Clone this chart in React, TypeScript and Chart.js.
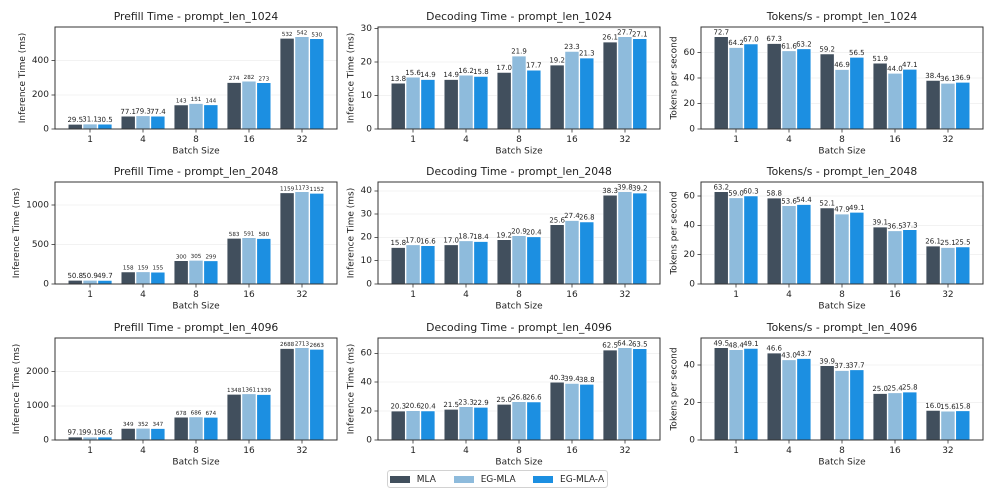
import React, { useEffect, useRef } from "react";
import { Chart, registerables } from "chart.js";

Chart.register(...registerables);

// ---------------- data ----------------
const batchSizes = ["1", "4", "8", "16", "32"];
const seriesNames = ["MLA", "EG-MLA", "EG-MLA-A"];
const seriesColors = ["#414f5d", "#8ebbdc", "#1c8fe1"];

const prefill1024MLA = [29.5, 77.1, 143, 274, 532];
const prefill1024EG = [31.1, 79.3, 151, 282, 542];
const prefill1024EGA = [30.5, 77.4, 144, 273, 530];

const decode1024MLA = [13.8, 14.9, 17.0, 19.2, 26.1];
const decode1024EG = [15.6, 16.2, 21.9, 23.3, 27.7];
const decode1024EGA = [14.9, 15.8, 17.7, 21.3, 27.1];

const tokens1024MLA = [72.7, 67.3, 59.2, 51.9, 38.4];
const tokens1024EG = [64.2, 61.6, 46.9, 44.0, 36.1];
const tokens1024EGA = [67.0, 63.2, 56.5, 47.1, 36.9];

const prefill2048MLA = [50.8, 158, 300, 583, 1159];
const prefill2048EG = [50.9, 159, 305, 591, 1173];
const prefill2048EGA = [49.7, 155, 299, 580, 1152];

const decode2048MLA = [15.8, 17.0, 19.2, 25.6, 38.3];
const decode2048EG = [17.0, 18.7, 20.9, 27.4, 39.8];
const decode2048EGA = [16.6, 18.4, 20.4, 26.8, 39.2];

const tokens2048MLA = [63.2, 58.8, 52.1, 39.1, 26.1];
const tokens2048EG = [59.0, 53.6, 47.9, 36.5, 25.1];
const tokens2048EGA = [60.3, 54.4, 49.1, 37.3, 25.5];

const prefill4096MLA = [97.1, 349, 678, 1348, 2688];
const prefill4096EG = [99.1, 352, 686, 1361, 2713];
const prefill4096EGA = [96.6, 347, 674, 1339, 2663];

const decode4096MLA = [20.3, 21.5, 25.0, 40.3, 62.5];
const decode4096EG = [20.6, 23.3, 26.8, 39.4, 64.2];
const decode4096EGA = [20.4, 22.9, 26.6, 38.8, 63.5];

const tokens4096MLA = [49.5, 46.6, 39.9, 25.0, 16.0];
const tokens4096EG = [48.4, 43.0, 37.3, 25.4, 15.6];
const tokens4096EGA = [49.1, 43.7, 37.7, 25.8, 15.8];

const yStepsRow1 = [200, 10, 20];
const yStepsRow2 = [500, 10, 20];
const yStepsRow3 = [1000, 20, 20];

const timeLabel = "Inference Time (ms)";
const tokensLabel = "Tokens per second";
const xLabel = "Batch Size";

type PanelDef = {
  title: string;
  yLabel: string;
  series: number[][];
  step: number;
};

const panels: PanelDef[][] = [
  [
    { title: "Prefill Time - prompt_len_1024", yLabel: timeLabel, series: [prefill1024MLA, prefill1024EG, prefill1024EGA], step: yStepsRow1[0] },
    { title: "Decoding Time - prompt_len_1024", yLabel: timeLabel, series: [decode1024MLA, decode1024EG, decode1024EGA], step: yStepsRow1[1] },
    { title: "Tokens/s - prompt_len_1024", yLabel: tokensLabel, series: [tokens1024MLA, tokens1024EG, tokens1024EGA], step: yStepsRow1[2] },
  ],
  [
    { title: "Prefill Time - prompt_len_2048", yLabel: timeLabel, series: [prefill2048MLA, prefill2048EG, prefill2048EGA], step: yStepsRow2[0] },
    { title: "Decoding Time - prompt_len_2048", yLabel: timeLabel, series: [decode2048MLA, decode2048EG, decode2048EGA], step: yStepsRow2[1] },
    { title: "Tokens/s - prompt_len_2048", yLabel: tokensLabel, series: [tokens2048MLA, tokens2048EG, tokens2048EGA], step: yStepsRow2[2] },
  ],
  [
    { title: "Prefill Time - prompt_len_4096", yLabel: timeLabel, series: [prefill4096MLA, prefill4096EG, prefill4096EGA], step: yStepsRow3[0] },
    { title: "Decoding Time - prompt_len_4096", yLabel: timeLabel, series: [decode4096MLA, decode4096EG, decode4096EGA], step: yStepsRow3[1] },
    { title: "Tokens/s - prompt_len_4096", yLabel: tokensLabel, series: [tokens4096MLA, tokens4096EG, tokens4096EGA], step: yStepsRow3[2] },
  ],
];

// ---------------- layout ----------------
const FONT = '"DejaVu Sans", "Liberation Sans", sans-serif';
const TEXT = "#1f1f1f";
const PLOT_LEFTS = [55, 378, 701];
const PLOT_TOPS = [27, 182, 338];
const PLOT_W = 282;
const PLOT_H = 102;
const AXIS_W = 52;
const AXIS_H = 30;
const PAD_T = 24;
const PAD_R = 4;
const X_MIN = -0.662;
const X_MAX = 4.662;

function fmt(v: number) {
  return v >= 100 ? String(Math.round(v)) : v.toFixed(1);
}

function makeDecor(panel: PanelDef) {
  return {
    id: "decor",
    afterDatasetsDraw(chart: any) {
      const ctx = chart.ctx as CanvasRenderingContext2D;
      ctx.save();
      ctx.textAlign = "center";
      ctx.textBaseline = "alphabetic";
      ctx.fillStyle = TEXT;
      chart.data.datasets.forEach((_ds: any, di: number) => {
        const meta = chart.getDatasetMeta(di);
        meta.data.forEach((el: any, i: number) => {
          const v = panel.series[di][i];
          const size = v >= 100 ? 5.6 : 7;
          ctx.font = `${size}px ${FONT}`;
          ctx.fillText(fmt(v), el.x, el.y - 2);
        });
      });
      ctx.restore();
    },
    afterDraw(chart: any) {
      const ctx = chart.ctx as CanvasRenderingContext2D;
      const a = chart.chartArea;
      ctx.save();
      // frame
      ctx.strokeStyle = "#333333";
      ctx.lineWidth = 1;
      ctx.strokeRect(a.left, a.top, a.right - a.left, a.bottom - a.top);
      // title
      ctx.fillStyle = TEXT;
      ctx.textAlign = "center";
      ctx.textBaseline = "middle";
      ctx.font = `10.8px ${FONT}`;
      ctx.fillText(panel.title, (a.left + a.right) / 2, a.top - 9.7);
      // x label
      ctx.font = `9px ${FONT}`;
      ctx.fillText(xLabel, (a.left + a.right) / 2, a.bottom + 22.4);
      // y label
      const yScale = chart.scales.y;
      let maxW = 0;
      yScale.ticks.forEach((t: any) => {
        const w = ctx.measureText(String(t.label)).width;
        if (w > maxW) maxW = w;
      });
      const lx = a.left - 6 - maxW - 9.3;
      ctx.translate(lx, (a.top + a.bottom) / 2);
      ctx.rotate(-Math.PI / 2);
      ctx.fillText(panel.yLabel, 0, 0);
      ctx.restore();
    },
  };
}

function Panel({ panel, left, top }: { panel: PanelDef; left: number; top: number }) {
  const ref = useRef<HTMLCanvasElement>(null);
  useEffect(() => {
    const maxV = Math.max(...panel.series.flat());
    const yMax = maxV * 1.1;
    const tickFont = { family: FONT, size: 9 };
    const chart = new Chart(ref.current as HTMLCanvasElement, {
      type: "bar",
      data: {
        datasets: panel.series.map((vals, si) => ({
          label: seriesNames[si],
          data: vals.map((v, i) => ({ x: i, y: v })),
          backgroundColor: seriesColors[si],
          borderColor: "#ffffff",
          borderWidth: 0.7,
          borderSkipped: "bottom",
          categoryPercentage: 0.84,
          barPercentage: 1,
        })),
      } as any,
      options: {
        animation: false,
        responsive: true,
        maintainAspectRatio: false,
        devicePixelRatio: 2,
        layout: { padding: { left: 0, top: PAD_T, right: PAD_R, bottom: 0 } },
        plugins: {
          legend: { display: false },
          tooltip: { enabled: false },
          title: { display: false },
        },
        scales: {
          x: {
            type: "linear",
            offset: false,
            min: X_MIN,
            max: X_MAX,
            afterBuildTicks: (s: any) => {
              s.ticks = batchSizes.map((_, i) => ({ value: i }));
            },
            afterFit: (s: any) => {
              s.height = AXIS_H;
            },
            ticks: {
              callback: (v: any) => batchSizes[v] ?? "",
              font: tickFont,
              color: TEXT,
              padding: 2,
              maxRotation: 0,
              autoSkip: false,
            },
            grid: {
              offset: false,
              drawOnChartArea: false,
              drawTicks: true,
              tickLength: 3.5,
              tickColor: "#333333",
              tickWidth: 0.8,
            },
            border: { display: false },
          },
          y: {
            type: "linear",
            min: 0,
            max: yMax,
            afterBuildTicks: (s: any) => {
              const t: { value: number }[] = [];
              for (let v = 0; v <= yMax + 1e-9; v += panel.step) t.push({ value: v });
              s.ticks = t;
            },
            afterFit: (s: any) => {
              s.width = AXIS_W;
            },
            ticks: {
              callback: (v: any) => String(v),
              font: tickFont,
              color: TEXT,
              padding: 2.5,
            },
            grid: {
              color: "rgba(0,0,0,0.07)",
              lineWidth: 0.8,
              drawTicks: true,
              tickLength: 3.5,
              tickColor: "#333333",
              tickWidth: 0.8,
            },
            border: { display: false },
          },
        },
      } as any,
      plugins: [makeDecor(panel)],
    });
    return () => chart.destroy();
  }, [panel]);

  const w = AXIS_W + PLOT_W + PAD_R;
  const h = PAD_T + PLOT_H + AXIS_H;
  return (
    <div
      style={{
        position: "absolute",
        left: left - AXIS_W,
        top: top - PAD_T,
        width: w,
        height: h,
      }}
    >
      <canvas ref={ref} />
    </div>
  );
}

function Legend() {
  const items = [
    { patch: 2, text: 28.7 },
    { patch: 66, text: 92.7 },
    { patch: 145.3, text: 172 },
  ];
  return (
    <div
      style={{
        position: "absolute",
        left: 387,
        top: 470,
        width: 221,
        height: 18,
        boxSizing: "border-box",
        border: "1px solid #d2d2d2",
        borderRadius: 3,
        background: "#ffffff",
        fontFamily: FONT,
        fontSize: 9,
        color: TEXT,
      }}
    >
      {seriesNames.map((name, i) => (
        <React.Fragment key={name}>
          <div
            style={{
              position: "absolute",
              left: items[i].patch,
              top: 4.5,
              width: 20,
              height: 7,
              background: seriesColors[i],
            }}
          />
          <span
            style={{
              position: "absolute",
              left: items[i].text,
              top: 0,
              height: 16,
              lineHeight: "16px",
              whiteSpace: "nowrap",
            }}
          >
            {name}
          </span>
        </React.Fragment>
      ))}
    </div>
  );
}

export default function App() {
  return (
    <div
      style={{
        position: "absolute",
        left: 0,
        top: 0,
        width: 996,
        height: 501,
        background: "#ffffff",
        overflow: "hidden",
        fontFamily: FONT,
      }}
    >
      {panels.map((row, r) =>
        row.map((p, c) => (
          <Panel key={`${r}-${c}`} panel={p} left={PLOT_LEFTS[c]} top={PLOT_TOPS[r]} />
        ))
      )}
      <Legend />
    </div>
  );
}
